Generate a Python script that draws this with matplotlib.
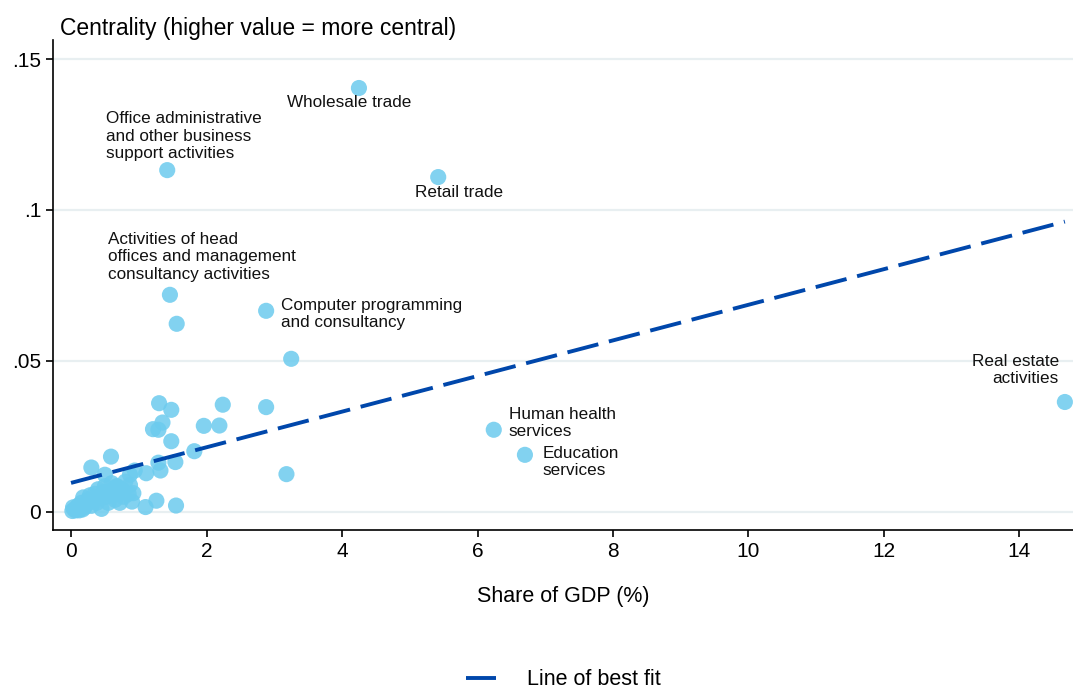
import numpy as np
import matplotlib
matplotlib.use("Agg")
import matplotlib.pyplot as plt

plt.rcParams['font.family'] = ['Liberation Sans', 'DejaVu Sans']

# labelled industries: share of GDP (%), centrality
lab_names = ["Wholesale trade",
             "Office administrative\nand other business\nsupport activities",
             "Retail trade",
             "Activities of head\noffices and management\nconsultancy activities",
             "Computer programming\nand consultancy",
             "Real estate\nactivities",
             "Human health\nservices",
             "Education\nservices"]
lab_x = [4.25, 1.42, 5.42, 1.46, 2.88, 14.67, 6.24, 6.70]
lab_y = [0.1404, 0.1132, 0.1109, 0.0719, 0.0666, 0.0364, 0.0272, 0.0189]

# other industries
oth_x = [1.56, 3.25, 1.30, 1.48, 1.35, 1.21, 1.29, 1.48, 2.24, 2.88, 1.96, 2.19,
         1.82, 1.54, 1.29, 1.32, 1.11, 3.18, 1.26, 1.55, 1.10, 0.59, 0.30, 0.50,
         0.94, 0.87, 0.87, 0.92, 0.90, 0.67,
         0.02, 0.05, 0.08, 0.10, 0.12, 0.15, 0.18, 0.20, 0.22, 0.25, 0.28, 0.30,
         0.32, 0.35, 0.38, 0.40, 0.42, 0.45, 0.48, 0.50, 0.52, 0.55, 0.58, 0.60,
         0.62, 0.65, 0.68, 0.70, 0.72, 0.75, 0.78, 0.80, 0.85, 0.03, 0.07, 0.13,
         0.17]
oth_y = [0.0623, 0.0507, 0.0360, 0.0338, 0.0296, 0.0274, 0.0272, 0.0234, 0.0355,
         0.0347, 0.0285, 0.0286, 0.0201, 0.0165, 0.0163, 0.0137, 0.0128, 0.0125,
         0.0037, 0.0021, 0.0016, 0.0183, 0.0147, 0.0123, 0.0137, 0.0123, 0.0089,
         0.0062, 0.0034, 0.0084,
         0.0003, 0.0008, 0.0012, 0.0020, 0.0005, 0.0030, 0.0048, 0.0015, 0.0025,
         0.0040, 0.0055, 0.0020, 0.0035, 0.0060, 0.0030, 0.0075, 0.0045, 0.0010,
         0.0065, 0.0085, 0.0050, 0.0030, 0.0070, 0.0095, 0.0055, 0.0040, 0.0085,
         0.0065, 0.0030, 0.0075, 0.0050, 0.0100, 0.0060, 0.0015, 0.0005, 0.0010,
         0.0008]

# line of best fit
fit_intercept = 0.0096
fit_slope = 0.0059
fit_range = [0.0, 14.67]

# label offsets in pixels (dx, dy), alignment
lab_pos = [(-10, -7, 'center', 'top'),
           (-61, 9, 'left', 'bottom'),
           (-23, -8, 'left', 'top'),
           (-62, 13, 'left', 'bottom'),
           (15, 13, 'left', 'top'),
           (-6, 16, 'right', 'bottom'),
           (15, 23, 'left', 'top'),
           (18, 9, 'left', 'top')]

fig = plt.figure(figsize=(10.73, 6.95), dpi=100)
ax = fig.add_axes([53/1073, 165/695, 1 - 53/1073, 490/695])

dot_col = '#6ccbee'
ax.scatter(oth_x, oth_y, s=135, color=dot_col, alpha=0.85, edgecolors='none', zorder=3)
ax.scatter(lab_x, lab_y, s=135, color=dot_col, alpha=0.85, edgecolors='none', zorder=3)

fx = np.array(fit_range)
ax.plot(fx, fit_intercept + fit_slope * fx, color='#0047ab', lw=2.8,
        dashes=(8.2, 2.8), zorder=4, label='Line of best fit')

for name, x, y, (dx, dy, ha, va) in zip(lab_names, lab_x, lab_y, lab_pos):
    ax.annotate(name, (x, y), xytext=(dx * 0.72, dy * 0.72),
                textcoords='offset points', ha=ha, va=va, fontsize=12.3,
                linespacing=1.2, color='#111111', zorder=5)

ax.set_xlim(-0.266, 14.79)
ax.set_ylim(-0.006, 0.1563)
ax.set_xticks([0, 2, 4, 6, 8, 10, 12, 14])
ax.set_yticks([0, 0.05, 0.1, 0.15])
ax.set_yticklabels(['0', '.05', '.1', '.15'])
ax.tick_params(labelsize=15, length=5, width=1.2, direction='out')
ax.grid(axis='y', color='#e8eff1', lw=1.6)
ax.set_axisbelow(True)
for s in ['top', 'right']:
    ax.spines[s].set_visible(False)
for s in ['left', 'bottom']:
    ax.spines[s].set_linewidth(1.2)

ax.set_xlabel('Share of GDP (%)', fontsize=15.5, labelpad=18)
fig.text(60/1073, 1 - 35/695, 'Centrality (higher value = more central)',
         fontsize=16.5, ha='left', va='baseline')

fig.legend(loc='center', bbox_to_anchor=(0.525, 0.022), frameon=False,
           fontsize=15.5, handlelength=1.4, handletextpad=1.4)

fig.savefig('out.png', dpi=100)
